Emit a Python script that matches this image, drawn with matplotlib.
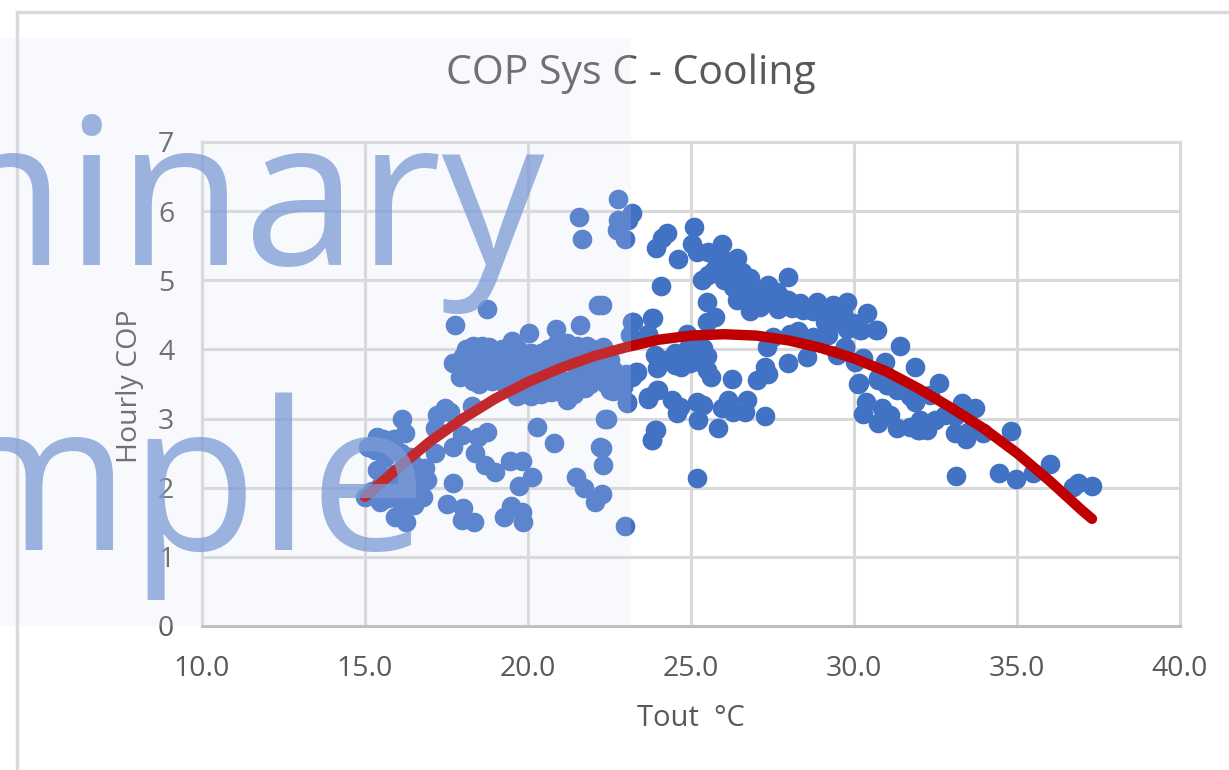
import matplotlib
matplotlib.use("Agg")
from matplotlib import pyplot as plt
from matplotlib.patches import Rectangle
from matplotlib.lines import Line2D

plt.rcParams['font.family'] = ['Open Sans', 'DejaVu Sans']

# scatter values, split by region
tout_left = [15.10,15.56,15.36,16.12,16.23,15.36,15.77,16.38,16.84,16.89,16.79,15.0,15.46,15.92,16.18,15.92,16.26,16.58,16.18,15.46,
             17.15,17.71,17.97,18.48,18.73,18.37,18.68,18.99,19.45,19.81,20.11,19.73,17.71,17.5,18.02,17.97,18.35,19.27,19.48,19.84,19.81,
             20.29,20.8,22.36,22.21,22.31,21.46,21.73,22.26,22.05,22.98,17.45,17.2,17.15,17.6,18.27,
             15.3,15.6,15.9,16.1,16.4,16.6,16.7,15.7,15.9,16.0,16.4,15.2,15.7,16.5,16.1]
cop_left = [2.59,2.71,2.74,3.00,2.79,2.26,2.59,2.45,2.28,2.11,1.87,1.87,1.80,1.92,1.77,1.58,1.51,2.02,2.06,2.02,
            2.50,2.59,2.76,2.74,2.81,2.50,2.33,2.23,2.38,2.38,2.16,2.02,2.07,1.76,1.70,1.53,1.51,1.58,1.73,1.51,1.65,
            2.88,2.64,3.0,2.59,2.33,2.15,1.99,1.91,1.80,1.45,3.15,3.05,2.86,3.1,3.18,
            2.55,2.45,2.7,2.5,2.2,2.3,2.15,2.1,2.2,1.9,1.9,1.95,1.85,1.75,1.65]

tout_mid = [17.76,18.73,22.16,20.03,20.86,21.6,23.2,23.8,
            18.1,18.3,18.6,18.8,19.2,19.5,19.8,20.1,20.4,20.7,20.9,21.2,21.5,21.8,22.0,22.3,
            17.7,18.0,18.3,18.5,18.7,19.0,19.3,19.6,19.9,20.2,20.5,20.8,21.1,21.3,
            17.9,18.1,18.3,18.5,18.7,19.3,19.6,19.9,20.3,20.6,20.9,21.1,21.4,21.6,21.9,22.0,22.2,22.4,22.6,22.8,23.0,23.2,22.6,
            19.65,20.1,20.7,21.2,21.75,22.5,23.03,23.69,23.95,23.8,23.9,23.3,22.87,22.4,22.0,
            18.0,18.2,18.4,18.6,18.9,19.1,19.4,19.7,20.0,20.3,20.6,19.2,19.7,20.2,20.6,21.4,21.7,21.5,21.9,22.2,22.5,
            20.0,20.4,19.8,21.2,22.6,22.9,20.9,19.2,18.9]
cop_mid = [4.35,4.59,4.64,4.24,4.29,4.35,4.40,4.45,
           4.0,4.05,4.05,4.03,4.0,4.12,3.95,3.95,3.95,4.0,4.1,4.1,4.05,4.05,4.0,4.03,
           3.8,3.75,3.85,3.8,3.85,3.8,3.85,3.8,3.85,3.8,3.85,3.75,3.9,3.85,
           3.6,3.65,3.55,3.5,3.65,3.5,3.45,3.55,3.5,3.45,3.4,3.4,3.35,3.5,3.5,3.6,3.65,3.5,3.4,3.6,3.65,3.6,3.7,
           3.32,3.32,3.39,3.27,3.44,3.41,3.23,3.31,3.41,2.69,2.83,3.68,3.56,3.73,3.65,
           3.9,3.7,3.65,3.95,3.9,3.7,3.7,3.65,3.7,3.65,3.7,3.95,4.0,3.9,4.0,3.95,3.9,3.65,3.75,3.85,3.85,
           3.4,3.35,3.35,3.55,3.55,3.45,3.6,3.6,3.55]

tout_top = [22.77,23.2,22.77,22.72,22.98,23.08,22.82,24.25,24.1,23.92,24.59,25.09,25.02,25.18,25.53,25.96,25.79,26.4,25.33,25.53,24.08,
            26.25,26.56,26.81,26.3,26.45,26.4,26.76,27.99,27.37,27.63,27.42,27.68,26.81,27.12,27.99,28.34,28.86,28.75,28.45,29.37,29.78,29.67,29.16,
            29.37,29.21,29.98,30.19,30.41,30.7,25.5,25.74,25.48,23.23,23.83,22.26,21.56,21.66,
            25.7,26.0,26.0,26.6,27.0,26.9,27.8,28.1,28.9,29.5,29.1,29.8]
cop_top = [6.17,5.98,5.87,5.73,5.59,5.87,5.82,5.68,5.61,5.46,5.31,5.77,5.53,5.41,5.41,5.53,5.29,5.32,5.0,5.08,4.92,
           5.15,5.12,5.03,4.91,4.79,4.71,4.86,5.05,4.93,4.83,4.69,4.59,4.55,4.62,4.71,4.67,4.69,4.55,4.57,4.64,4.69,4.52,4.55,
           4.38,4.21,4.38,4.28,4.52,4.28,4.69,4.47,4.4,4.4,4.46,4.64,5.91,5.6,
           5.15,5.3,5.0,4.95,4.85,4.7,4.75,4.6,4.6,4.45,4.4,4.3]

tout_low = [23.13,23.69,24.89,23.9,23.95,24.51,24.66,24.92,25.18,25.38,24.97,25.33,25.48,25.61,26.25,27.32,27.53,27.27,27.37,27.02,27.99,28.29,28.04,28.55,28.75,
            29.47,29.73,30.03,30.29,30.95,31.41,31.87,30.13,30.75,31.0,31.31,31.72,31.87,23.33,23.03,22.41,22.26,22.5,22.2,
            23.69,24.0,24.41,24.66,24.56,25.18,25.38,25.23,25.84,25.94,26.12,26.3,26.71,26.66,27.27,23.93,23.79,25.18,
            30.36,30.29,30.85,31.1,30.75,31.31,31.72,32.0,
            24.2,24.7,25.0,25.2,24.5,25.5]
cop_low = [4.21,4.23,4.23,3.92,3.73,3.77,3.94,4.02,4.0,4.02,3.8,3.8,3.7,3.6,3.57,4.04,4.18,3.75,3.65,3.56,3.81,4.26,4.23,3.89,4.18,
           3.92,4.04,3.82,3.87,3.82,4.05,3.75,3.5,3.56,3.48,3.41,3.32,3.24,3.68,3.24,3.0,2.57,3.56,3.75,
           3.29,3.41,3.27,3.17,3.08,3.24,3.19,2.98,2.86,3.15,3.27,3.1,3.27,3.1,3.04,2.83,2.69,2.14,
           3.24,3.07,3.15,3.05,2.93,2.86,2.88,2.83,
           3.85,3.75,3.9,3.85,3.95,3.9]

tout_right = [30.23,30.69,29.72,30.15,30.75,31.0,31.51,31.87,32.62,32.33,33.3,33.71,
              32.02,31.97,32.25,32.48,32.79,33.1,33.1,33.44,33.51,33.97,34.82,33.13,34.45,34.96,35.5,36.01,36.88,36.73,37.29]
cop_right = [4.28,4.28,4.04,3.51,3.58,3.49,3.41,3.25,3.52,3.34,3.22,3.16,
             2.98,2.83,2.83,2.98,3.05,3.03,2.79,2.71,2.81,2.79,2.82,2.17,2.22,2.13,2.22,2.35,2.07,2.01,2.02]

trend_x = [15,16,17,18,19,20,21,22,23,24,25,26,27,28,29,30,31,32,33,34,35,36,37,37.3]
trend_y = [1.87,2.28,2.67,3.0,3.29,3.53,3.73,3.9,4.03,4.14,4.2,4.22,4.2,4.13,4.02,3.87,3.68,3.43,3.15,2.85,2.5,2.1,1.67,1.55]

xticks = [10,15,20,25,30,35,40]
xlabels = ["10.0","15.0","20.0","25.0","30.0","35.0","40.0"]
yticks = [0,1,2,3,4,5,6,7]

W, H = 1229, 770
GREY = "#595959"
GRID = "#D9D9D9"

tout = tout_left + tout_mid + tout_top + tout_low + tout_right
cop = cop_left + cop_mid + cop_top + cop_low + cop_right

fig = plt.figure(figsize=(W/100, H/100), dpi=100)
ax = fig.add_axes([202/W, 1-626/H, (1180-202)/W, (626-142)/H])
ax.set_xlim(10, 40)
ax.set_ylim(0, 7)
ax.set_xticks(xticks)
ax.set_xticklabels(xlabels)
ax.set_yticks(yticks)
ax.grid(True, color=GRID, lw=2.2)
ax.set_axisbelow(True)
for s in ax.spines.values():
    s.set_color(GRID)
    s.set_linewidth(2.2)
ax.spines['bottom'].set_color("#BFBFBF")
ax.tick_params(length=0, labelsize=20.5, labelcolor=GREY)
ax.tick_params(axis='x', pad=21)
ax.tick_params(axis='y', pad=20)

ax.scatter(tout, cop, s=200, color="#4272C4", linewidths=0, zorder=3, clip_on=False)
ax.plot(trend_x, trend_y, color="#C00000", lw=7.5, solid_capstyle='round', solid_joinstyle='round', zorder=4)

fig.text(631/W, 1-74/H, "COP Sys C - Cooling", fontsize=29.5, color=GREY, ha='center', va='center')
fig.text(691/W, 1-718/H, "Tout  °C", fontsize=21, color=GREY, ha='center', va='center')
fig.text(130/W, 1-386/H, "Hourly COP", fontsize=20.5, color=GREY, ha='center', va='center', rotation=90)

# outer chart frame, runs off the crop on right and bottom
fig.add_artist(Line2D([16.5/W, 16.5/W], [0, 1-12/H], color=GRID, lw=2.4, zorder=1))
fig.add_artist(Line2D([16.5/W, 1], [1-12/H, 1-12/H], color=GRID, lw=2.4, zorder=1))

# watermark panel and big text on top of everything
fig.add_artist(Rectangle((0, 1-626/H), 631/W, (626-38)/H, transform=fig.transFigure, facecolor="#D5E0F7", alpha=0.18, edgecolor='none', zorder=5))
fig.text(545/W, 1-265/H, "Preliminary", fontsize=148, color="#7C9BD6", alpha=0.75, ha='right', va='baseline', zorder=6)
fig.text(427/W, 1-550/H, "Sample", fontsize=150, color="#7C9BD6", alpha=0.75, ha='right', va='baseline', zorder=6)

fig.savefig("out.png", dpi=100)
